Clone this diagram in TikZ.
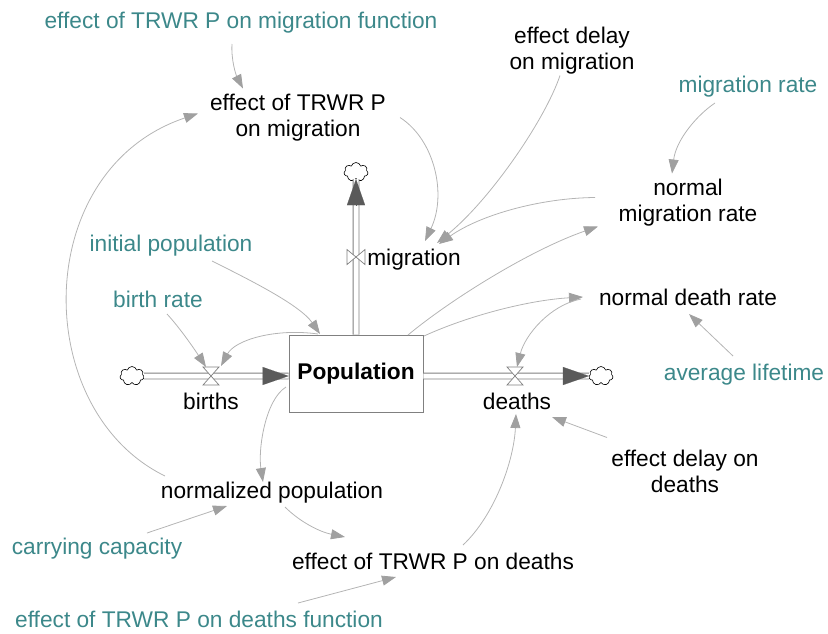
\documentclass[tikz,border=0pt]{standalone}
\usepackage{fontspec}
\setmainfont{Liberation Sans}
\usetikzlibrary{arrows.meta,shapes.symbols}
\definecolor{teal2}{RGB}{60,136,138}
\definecolor{linkc}{RGB}{180,180,180}
\definecolor{headc}{RGB}{160,160,160}
\definecolor{flowc}{RGB}{90,90,90}
\definecolor{pipec}{RGB}{128,128,128}
\begin{document}
\begin{tikzpicture}[x=1pt,y=-1pt, font=\fontsize{22.7}{25.5}\selectfont,
  lbl/.style={inner sep=0pt, align=center, yshift=-2.5pt},
  one/.style={inner sep=0pt, align=center, text height=18.5pt, text depth=2.5pt},
  aux/.style={one, text=teal2},
  link/.style={draw=linkc, line width=0.8pt, -{Triangle[length=14pt,width=10pt,color=headc]}},
  pipe/.style={draw=pipec, line width=0.9pt, double=white, double distance=5pt},
  flowhead/.style={draw=flowc, line width=0.1pt, -{Triangle[length=26pt,width=18pt,color=flowc]}},
  valve/.style={draw=pipec, line width=0.7pt, fill=white},
  src/.style={cloud, cloud puffs=7, aspect=1.2, draw=black, line width=0.6pt, fill=white, minimum width=24pt, minimum height=19pt, inner sep=0pt},
  stock/.style={draw=pipec, line width=0.8pt, fill=white, minimum width=134pt, minimum height=77pt, inner sep=0pt, font=\fontsize{22.7}{25.5}\selectfont\bfseries}
]
\useasboundingbox (0,0) rectangle (828,633);

% flow positions
\coordinate (vb) at (211,376);
\coordinate (vd) at (515,376);
\coordinate (vm) at (356,257);

% stock
\node[stock] (pop) at (356,373.5) {Population};

% clouds
\node[src] (cl) at (132,376) {};
\node[src] (cr) at (601,376) {};
\node[src] (ct) at (356,172) {};

% pipes
\coordinate (bin) at (pop.west |- vb);
\draw[pipe] (cl.east) -- (bin);
\draw[flowhead] ([xshift=-26pt]bin) -- (bin);
\draw[pipe] (pop.east |- vd) -- (cr.west);
\draw[flowhead] ([xshift=-26pt]cr.west) -- (cr.west);
\draw[pipe] (pop.north -| ct) -- (ct.south);
\draw[flowhead] ([yshift=-26pt]ct.south) -- (ct.south);

% valves
\draw[valve] ([shift={(-8,-9)}]vb) -- ([shift={(8,-9)}]vb) -- ([shift={(-8,9)}]vb) -- ([shift={(8,9)}]vb) -- cycle;
\draw[valve] ([shift={(-8,-9)}]vd) -- ([shift={(8,-9)}]vd) -- ([shift={(-8,9)}]vd) -- ([shift={(8,9)}]vd) -- cycle;
\draw[valve] ([shift={(-9,-7.5)}]vm) -- ([shift={(-9,7.5)}]vm) -- ([shift={(9,-7.5)}]vm) -- ([shift={(9,7.5)}]vm) -- cycle;

% labels
\node[one] (births) at (211,401) {births};
\node[one] (deaths) at (517,401) {deaths};
\node[one] (mig) at (414,257) {migration};

\node[aux] (fmig) at (241,20) {effect of TRWR P on migration function};
\node[lbl] (emig) at (298,115) {effect of TRWR P\\on migration};
\node[lbl] (edmig) at (572,48) {effect delay\\on migration};
\node[aux] (mrate) at (748,84) {migration rate};
\node[lbl] (nmr) at (688,200) {normal\\migration rate};
\node[aux] (ipop) at (171,243) {initial population};
\node[aux] (brate) at (158,299) {birth rate};
\node[one] (ndr) at (688,297) {normal death rate};
\node[aux] (alife) at (744,372) {average lifetime};
\node[lbl] (edd) at (685,469) {effect delay on\\deaths};
\node[one] (npop) at (272,490) {normalized population};
\node[aux] (cc) at (97,546) {carrying capacity};
\node[one] (etd) at (433,561) {effect of TRWR P on deaths};
\node[aux] (etdf) at (199,619) {effect of TRWR P on deaths function};

% links
\draw[link] ([shift={(-9,24)}]fmig.center) .. controls (231,60) and (236,75) .. ([shift={(-55,-29)}]emig.center);
\draw[link] ([shift={(102,0)}]emig.center) .. controls (435,140) and (447,195) .. ([shift={(11,-16)}]mig.center);
\draw[link] ([shift={(-12,25)}]edmig.center) .. controls (545,120) and (490,200) .. ([shift={(23,-14)}]mig.center);
\draw[link] ([shift={(-93,-5)}]nmr.center) .. controls (540,198) and (480,215) .. ([shift={(25,-13)}]mig.center);
\draw[link] ([shift={(-33,19)}]mrate.center) .. controls (697,115) and (676,140) .. ([shift={(-16,-29)}]nmr.center);
\draw[link] ([shift={(52,-38.5)}]pop.center) .. controls (450,300) and (530,250) .. ([shift={(-90,24)}]nmr.center);
\draw[link] ([shift={(68,-37.5)}]pop.center) .. controls (470,315) and (530,300) .. ([shift={(-105,0)}]ndr.center);
\draw[link] ([shift={(-107,2)}]ndr.center) .. controls (550,305) and (525,335) .. ([shift={(2,-9)}]vd);
\draw[link] ([shift={(-11,-16)}]alife.center) -- ([shift={(1,17)}]ndr.center);
\draw[link] ([shift={(-78,-34)}]edd.center) -- ([shift={(35,16)}]deaths.center);
\draw[link] ([shift={(30,-16)}]etd.center) .. controls (495,515) and (514,460) .. ([shift={(-1,13)}]deaths.center);
\draw[link] ([shift={(13,17)}]npop.center) .. controls (300,522) and (320,532) .. ([shift={(-88,-24)}]etd.center);
\draw[link] ([shift={(50,-13)}]cc.center) -- ([shift={(-45,16)}]npop.center);
\draw[link] ([shift={(99,-16)}]etdf.center) -- ([shift={(-37,16)}]etd.center);
\draw[link] ([shift={(-70,13.5)}]pop.center) .. controls (265,400) and (258,450) .. ([shift={(-9,-8)}]npop.center);
\draw[link] ([shift={(-107,-14)}]npop.center) .. controls (30,410) and (30,170) .. ([shift={(-100,-4)}]emig.center);
\draw[link] ([shift={(9,15)}]brate.center) .. controls (180,328) and (195,350) .. ([shift={(-5,-9)}]vb);
\draw[link] ([shift={(-38,-39.5)}]pop.center) .. controls (275,328) and (235,340) .. ([shift={(10,-10)}]vb);
\draw[link] ([shift={(41,18)}]ipop.center) .. controls (250,280) and (300,305) .. ([shift={(-36,-39.5)}]pop.center);
\end{tikzpicture}
\end{document}
